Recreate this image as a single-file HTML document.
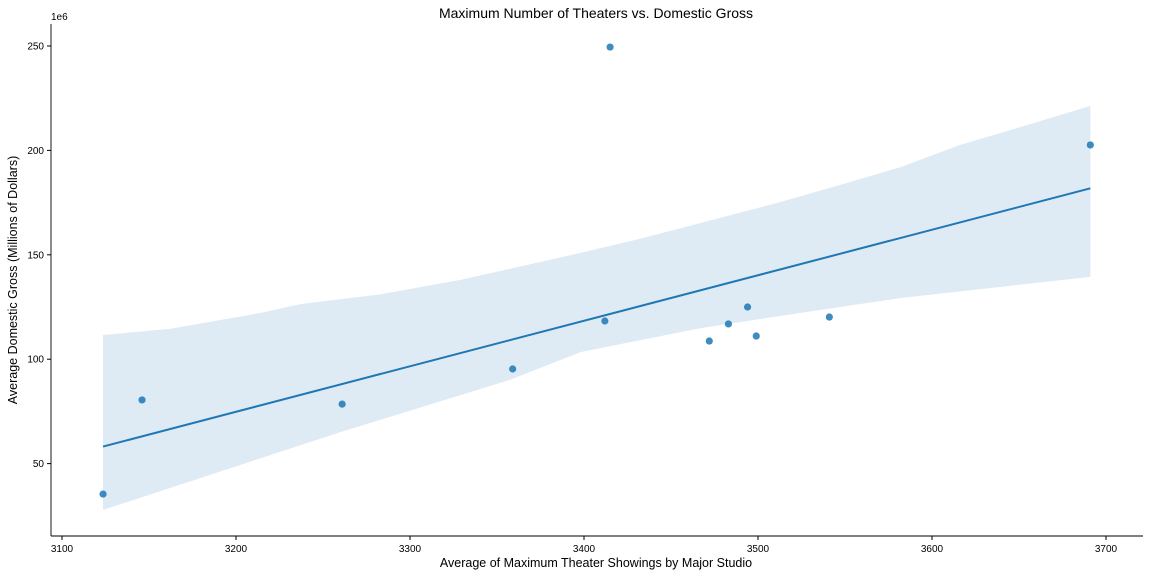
<!DOCTYPE html>
<html><head><meta charset="utf-8"><style>
body{margin:0;background:#fff;font-family:"Liberation Sans","DejaVu Sans",sans-serif}
</style></head><body>
<svg id="chart" width="1149" height="576" viewBox="0 0 1149 576">
<text x="596" y="18" text-anchor="middle" font-size="14">Maximum Number of Theaters vs. Domestic Gross</text>
<text x="596" y="567" text-anchor="middle" font-size="12.5">Average of Maximum Theater Showings by Major Studio</text>
<text transform="translate(17,280) rotate(-90)" text-anchor="middle" font-size="12.5">Average Domestic Gross (Millions of Dollars)</text>
<text x="51" y="20" font-size="10">1e6</text>
<g id="band"></g>
<g id="line"></g>
<g id="pts"></g>
<g id="axes"></g>
</svg>
<script>
const xs=[3123.6,3146,3261,3359,3412,3415,3472,3483,3494,3499,3541,3691];
const ys=[35.4,80.5,78.5,95.3,118.3,249.5,108.7,116.9,125,111.1,120.2,202.6];
const upperX=[3123.6,3162,3214,3237,3284,3329,3398,3432,3467,3513,3547,3582,3616,3651,3691];
const upperY=[111.6,114.5,122.1,126.4,131.2,138.0,150.9,157.6,165.2,175.3,183.4,192.0,202.6,211.2,221.3];
const lowerX=[3123.6,3260,3357,3398,3467,3524,3582,3639,3691];
const lowerY=[27.8,65.1,90.0,103.4,114.9,122.1,129.3,134.6,139.4];
const xTicks=[3100,3200,3300,3400,3500,3600,3700];
const yTicks=[50,100,150,200,250];
const NS="http://www.w3.org/2000/svg";
const X=v=>62+(v-3100)*1.74;
const Y=v=>46+(250-v)*2.088;
function mk(t,a,p){const e=document.createElementNS(NS,t);for(const k in a)e.setAttribute(k,a[k]);p.appendChild(e);return e;}
const n=xs.length,mx=xs.reduce((a,b)=>a+b)/n,my=ys.reduce((a,b)=>a+b)/n;
let sxx=0,sxy=0;for(let i=0;i<n;i++){sxx+=(xs[i]-mx)**2;sxy+=(xs[i]-mx)*(ys[i]-my);}
const b=sxy/sxx,a=my-b*mx;
const x0=Math.min(...xs),x1=Math.max(...xs);
let pts=[];
for(let i=0;i<upperX.length;i++)pts.push(X(upperX[i])+","+Y(upperY[i]));
for(let i=lowerX.length-1;i>=0;i--)pts.push(X(lowerX[i])+","+Y(lowerY[i]));
const band=mk("polygon",{points:pts.join(" "),fill:"#1f77b4","fill-opacity":"0.15"},document.getElementById("band"));


const ln=mk("line",{x1:X(x0),y1:Y(a+b*x0),x2:X(x1),y2:Y(a+b*x1),stroke:"#1f77b4","stroke-width":2},document.getElementById("line"));


const pg=document.getElementById("pts");
for(let i=0;i<n;i++){const c=mk("circle",{cx:X(xs[i]),cy:Y(ys[i]),r:3.6,fill:"#1f77b4","fill-opacity":"0.85"},pg);

}
const ax=document.getElementById("axes");
mk("line",{x1:51,y1:24,x2:51,y2:536,stroke:"#000","stroke-width":0.9},ax);
mk("line",{x1:51,y1:536,x2:1143,y2:536,stroke:"#000","stroke-width":0.9},ax);
xTicks.forEach(v=>{mk("line",{x1:X(v),y1:536,x2:X(v),y2:540,stroke:"#000"},ax);
const tx=mk("text",{x:X(v),y:552,"text-anchor":"middle","font-size":"10"},ax);tx.textContent=v;

});
yTicks.forEach(v=>{mk("line",{x1:47,y1:Y(v),x2:51,y2:Y(v),stroke:"#000"},ax);
const tx=mk("text",{x:44,y:Y(v)+3.5,"text-anchor":"end","font-size":"10"},ax);tx.textContent=v;

});
</script>
</body></html>
